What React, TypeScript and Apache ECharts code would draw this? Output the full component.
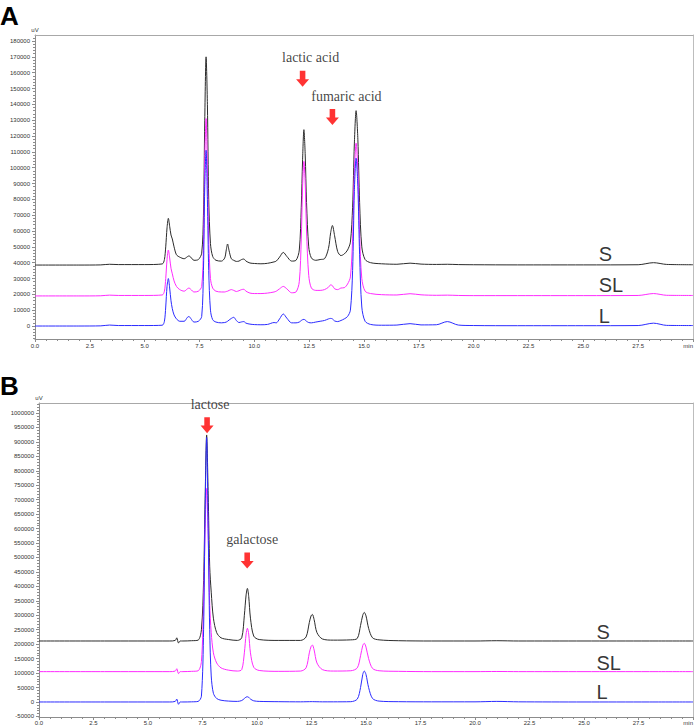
import React, { useEffect, useRef } from "react";
import * as echarts from "echarts";

// ---------- Panel A (organic acids) ----------
const aTimes = [0, 2, 3, 3.4, 3.8, 5, 5.8, 5.9, 5.96, 6.02, 6.08, 6.14, 6.2, 6.26, 6.34, 6.45, 6.6, 6.8, 6.95, 7.02, 7.1, 7.25, 7.45, 7.6, 7.68, 7.74, 7.8, 7.86, 7.92, 8.0, 8.1, 8.25, 8.5, 8.65, 8.72, 8.78, 8.85, 8.95, 9.06, 9.18, 9.3, 9.42, 9.52, 9.62, 9.8, 10.0, 10.3, 10.6, 10.9, 11.0, 11.15, 11.32, 11.48, 11.7, 11.9, 12.05, 12.14, 12.2, 12.26, 12.32, 12.38, 12.48, 12.6, 12.8, 13.0, 13.2, 13.38, 13.48, 13.56, 13.66, 13.8, 13.95, 14.1, 14.25, 14.38, 14.48, 14.56, 14.64, 14.72, 14.8, 14.9, 15.05, 15.3, 15.8, 16.5, 17.1, 17.6, 18.3, 18.8, 19.3, 20, 22, 25, 27.5, 28.2, 28.8, 30];
const aS = [38500, 38500, 38600, 39000, 38800, 38800, 39200, 42000, 50000, 62000, 68000, 63000, 57500, 55000, 50000, 45000, 43500, 42500, 43800, 44300, 43500, 41500, 42000, 46000, 70000, 130000, 170000, 140000, 80000, 52000, 44000, 41500, 41000, 43000, 48000, 51800, 47500, 42500, 41500, 40800, 41000, 42000, 42300, 41000, 39800, 39500, 39300, 39600, 40500, 41000, 43500, 46500, 44000, 41000, 41500, 48000, 75000, 105000, 124000, 108000, 78000, 50000, 43000, 41500, 42000, 42500, 49000, 59000, 63500, 57000, 47000, 44500, 45500, 48000, 53000, 75000, 115000, 136000, 118000, 78000, 50000, 42000, 40000, 39300, 39000, 39700, 39100, 38900, 39000, 38800, 38700, 38600, 38600, 38700, 40000, 38900, 38700];
const aSL = [19000, 19000, 19100, 19500, 19300, 19300, 19600, 22000, 30000, 42000, 48000, 43000, 36500, 33000, 28500, 25000, 23000, 22000, 23500, 24000, 23200, 21500, 22000, 25000, 50000, 105000, 131000, 100000, 55000, 30000, 24000, 22000, 21500, 21500, 21800, 22000, 22500, 23000, 22500, 21800, 22300, 23000, 23200, 22000, 20800, 20500, 20500, 20800, 21500, 22000, 23500, 25000, 23500, 21000, 21500, 28000, 55000, 88000, 104000, 90000, 60000, 32000, 24000, 22500, 22500, 23000, 24500, 26000, 25500, 23500, 23000, 24000, 24200, 26500, 31000, 55000, 97000, 115500, 98000, 58000, 30000, 22000, 20500, 19800, 19600, 20400, 19700, 19400, 19500, 19300, 19200, 19200, 19200, 19300, 20500, 19400, 19300];
const aL = [0, 0, 100, 600, 300, 300, 500, 3000, 12000, 25000, 30000, 24000, 16000, 11000, 7000, 4500, 3000, 3000, 5500, 6000, 4800, 2500, 3000, 6000, 35000, 88000, 111000, 80000, 35000, 10000, 4000, 2500, 2000, 2200, 2500, 3000, 3800, 4800, 5500, 3500, 2200, 2600, 2800, 1800, 1200, 900, 800, 1000, 2200, 2000, 4500, 7600, 5000, 2000, 2000, 2500, 3500, 4000, 4200, 3800, 3000, 2200, 2000, 2500, 3000, 3500, 4500, 4800, 4500, 3200, 2800, 3500, 4500, 6000, 10000, 35000, 85000, 106000, 88000, 45000, 12000, 3000, 1000, 500, 600, 1500, 700, 800, 2800, 600, 300, 200, 200, 300, 1800, 400, 300];

// ---------- Panel B (sugars) ----------
const bTimes = [0, 3, 6.0, 6.25, 6.32, 6.4, 6.48, 6.6, 7.0, 7.3, 7.45, 7.55, 7.62, 7.69, 7.76, 7.83, 7.9, 8.0, 8.15, 8.35, 8.7, 9.1, 9.3, 9.42, 9.5, 9.56, 9.62, 9.7, 9.85, 10.1, 11, 12.0, 12.25, 12.4, 12.48, 12.54, 12.62, 12.75, 13.0, 13.5, 14.3, 14.6, 14.75, 14.85, 14.92, 15.0, 15.12, 15.3, 15.6, 16.5, 18, 20, 21, 22, 25, 28, 30];
const bS = [211000, 211000, 211000, 213000, 222000, 204000, 211000, 211000, 212000, 214000, 250000, 420000, 700000, 924000, 720000, 470000, 380000, 290000, 240000, 222000, 216000, 213000, 222000, 300000, 370000, 393000, 365000, 290000, 228000, 216000, 213000, 213000, 225000, 275000, 298000, 303000, 285000, 240000, 218000, 214000, 215000, 220000, 265000, 300000, 310000, 298000, 255000, 222000, 215000, 212000, 211000, 211000, 212000, 211000, 211000, 211000, 211000];
const bSL = [105000, 105000, 105000, 107000, 115000, 98000, 105000, 105000, 106000, 108000, 140000, 350000, 600000, 739000, 580000, 340000, 240000, 170000, 135000, 118000, 110000, 107000, 112000, 170000, 235000, 255000, 235000, 170000, 120000, 109000, 106000, 107000, 118000, 170000, 192000, 197000, 180000, 135000, 112000, 107000, 108000, 118000, 160000, 195000, 203000, 190000, 150000, 116000, 108000, 106000, 105000, 105000, 105500, 105000, 105000, 105000, 105000];
const bL = [0, 0, 0, 2000, 10000, -8000, 0, 0, 500, 2000, 20000, 250000, 650000, 915000, 600000, 250000, 90000, 30000, 12000, 6000, 3000, 2000, 5000, 12000, 17000, 18000, 16000, 10000, 4000, 2000, 1000, 500, 800, 1000, 1200, 1200, 1000, 800, 500, 500, 1000, 10000, 50000, 95000, 107000, 95000, 50000, 12000, 3000, 1000, 500, 500, 2000, 500, 0, 0, 0];

// ---------- axis ticks ----------
const aYTicks = [0, 10000, 20000, 30000, 40000, 50000, 60000, 70000, 80000, 90000, 100000, 110000, 120000, 130000, 140000, 150000, 160000, 170000, 180000];
const bYTicks = [-50000, 0, 50000, 100000, 150000, 200000, 250000, 300000, 350000, 400000, 450000, 500000, 550000, 600000, 650000, 700000, 750000, 800000, 850000, 900000, 950000, 1000000];

// ---------- annotations ----------
const traceNames = ["S", "SL", "L"];
const aTraceLabelTime = 25.68;
const aTraceLabelValues = [45500, 25600, 6600];
const bTraceLabelTime = 25.55;
const bTraceLabelValues = [242000, 135000, 33000];

const aCompounds = ["lactic acid", "fumaric acid"];
const aCompoundTimes = [12.2, 13.56];
const aCompoundValues = [156200, 132000];
const bCompounds = ["lactose", "galactose"];
const bCompoundTimes = [7.71, 9.55];
const bCompoundValues = [958000, 489600];

const traceColors = ["#2b2b2b", "#ff2bff", "#2b2bff"];
const axisColor = "#8c8c8c";
const SANS = "'Liberation Sans', Arial, sans-serif";
const SERIF = "'Liberation Serif', 'Times New Roman', serif";
const ARROW = "path://M4,0L10,0L10,9L14,9L7,17L0,9L4,9Z";

function zip(t: number[], v: number[]) {
  return t.map((x, i) => [x, v[i]]);
}

function range(a: number, b: number, step: number) {
  const out: number[] = [];
  for (let x = a; x <= b + 1e-9; x += step) out.push(x);
  return out;
}

function xBottom(gridIndex: number, margin: number) {
  return {
    type: "value",
    gridIndex,
    min: 0,
    max: 30,
    interval: 2.5,
    axisLine: { show: true, onZero: false, lineStyle: { color: axisColor, width: 1 } },
    axisTick: { show: true, length: 3, lineStyle: { color: axisColor } },
    minorTick: { show: true, splitNumber: 5, length: 2, lineStyle: { color: axisColor } },
    splitLine: { show: false },
    axisLabel: {
      fontSize: 6,
      color: "#333",
      fontFamily: SANS,
      margin,
      showMaxLabel: true,
      alignMaxLabel: "right",
      formatter: (v: number) => (v >= 30 ? "min" : v.toFixed(1)),
    },
  };
}

function xTop(gridIndex: number) {
  return {
    type: "value",
    gridIndex,
    position: "top",
    min: 0,
    max: 30,
    axisLine: { show: true, onZero: false, lineStyle: { color: "#a8a8a8" } },
    axisTick: { show: false },
    axisLabel: { show: false },
    splitLine: { show: false },
  };
}

function yMain(gridIndex: number, min: number, max: number, ticks: number[]) {
  return {
    type: "value",
    gridIndex,
    min,
    max,
    position: "left",
    name: "uV",
    nameLocation: "end",
    nameGap: 2,
    nameTextStyle: { fontSize: 6, color: "#333", fontFamily: SANS },
    axisLine: { show: true, onZero: false, lineStyle: { color: axisColor } },
    axisTick: { show: true, length: 3, customValues: ticks, lineStyle: { color: axisColor } },
    axisLabel: {
      show: true,
      customValues: ticks,
      fontSize: 6,
      color: "#333",
      fontFamily: SANS,
      margin: 5,
      formatter: (v: number) => String(Math.round(v)),
    },
    splitLine: { show: false },
  };
}

function yMinor(gridIndex: number, min: number, max: number, ticks: number[]) {
  return {
    type: "value",
    gridIndex,
    min,
    max,
    position: "left",
    axisLine: { show: false },
    axisTick: { show: true, length: 2, customValues: ticks, lineStyle: { color: axisColor } },
    axisLabel: { show: false },
    splitLine: { show: false },
  };
}

function yRight(gridIndex: number, min: number, max: number) {
  return {
    type: "value",
    gridIndex,
    min,
    max,
    position: "right",
    axisLine: { show: true, onZero: false, lineStyle: { color: "#bdbdbd" } },
    axisTick: { show: false },
    axisLabel: { show: false },
    splitLine: { show: false },
  };
}

function traceSeries(xi: number, yi: number, times: number[], values: number[][]) {
  return [2, 1, 0].map((k) => ({
    type: "line",
    name: traceNames[k],
    xAxisIndex: xi,
    yAxisIndex: yi,
    data: zip(times, values[k]),
    showSymbol: false,
    symbol: "none",
    smooth: 0.3,
    lineStyle: { color: traceColors[k], width: 1 },
    itemStyle: { color: traceColors[k] },
    z: 2 + k,
  }));
}

function arrowSeries(xi: number, yi: number, names: string[], times: number[], values: number[], dx: number[]) {
  return {
    type: "scatter",
    xAxisIndex: xi,
    yAxisIndex: yi,
    symbol: ARROW,
    symbolSize: [13, 16],
    itemStyle: { color: "#ff0000" },
    z: 10,
    label: {
      show: true,
      position: "top",
      distance: 6,
      formatter: "{b}",
      fontFamily: SERIF,
      fontSize: 14,
      color: "#111",
    },
    data: names.map((n, i) => ({ name: n, value: [times[i], values[i]], label: { offset: [dx[i], 0] } })),
  };
}

function traceLabelSeries(xi: number, yi: number, t: number, values: number[]) {
  return {
    type: "scatter",
    xAxisIndex: xi,
    yAxisIndex: yi,
    symbol: "circle",
    symbolSize: 1,
    itemStyle: { color: "rgba(0,0,0,0)" },
    z: 10,
    label: {
      show: true,
      position: "right",
      distance: 0,
      formatter: "{b}",
      fontFamily: SANS,
      fontSize: 20,
      color: "#000",
    },
    data: traceNames.map((n, i) => ({ name: n, value: [t, values[i]] })),
  };
}

export default function App() {
  const ref = useRef<HTMLDivElement>(null);

  useEffect(() => {
    if (!ref.current) return;
    const chart = echarts.init(ref.current, undefined, { renderer: "svg" });
    const aMin = -8200, aMax = 183800;
    const bMin = -52000, bMax = 1034600;
    const option = {
      animation: false,
      backgroundColor: "#ffffff",
      grid: [
        { left: 35, right: 1, top: 35, bottom: 388, containLabel: false },
        { left: 39, right: 1, top: 403, bottom: 10, containLabel: false },
      ],
      xAxis: [xBottom(0, 4), xTop(0), xBottom(1, 3), xTop(1)],
      yAxis: [
        yMain(0, aMin, aMax, aYTicks),
        yMinor(0, aMin, aMax, range(-8000, 182000, 2000)),
        yRight(0, aMin, aMax),
        yMain(1, bMin, bMax, bYTicks),
        yMinor(1, bMin, bMax, range(-50000, 1030000, 10000)),
        yRight(1, bMin, bMax),
      ],
      graphic: [
        { type: "text", left: 0, top: 3, style: { text: "A", font: `bold 26px ${SANS}`, fill: "#000" } },
        { type: "text", left: 0, top: 373, style: { text: "B", font: `bold 26px ${SANS}`, fill: "#000" } },
      ],
      series: [
        ...traceSeries(0, 0, aTimes, [aS, aSL, aL]),
        ...traceSeries(2, 3, bTimes, [bS, bSL, bL]),
        arrowSeries(0, 0, aCompounds, aCompoundTimes, aCompoundValues, [8, 14]),
        arrowSeries(2, 3, bCompounds, bCompoundTimes, bCompoundValues, [3, 5]),
        traceLabelSeries(0, 0, aTraceLabelTime, aTraceLabelValues),
        traceLabelSeries(2, 3, bTraceLabelTime, bTraceLabelValues),
      ],
    };
    chart.setOption(option as any);
    return () => chart.dispose();
  }, []);

  return (
    <div
      ref={ref}
      style={{ position: "absolute", left: 0, top: 0, width: 696, height: 727, background: "#fff" }}
    />
  );
}
